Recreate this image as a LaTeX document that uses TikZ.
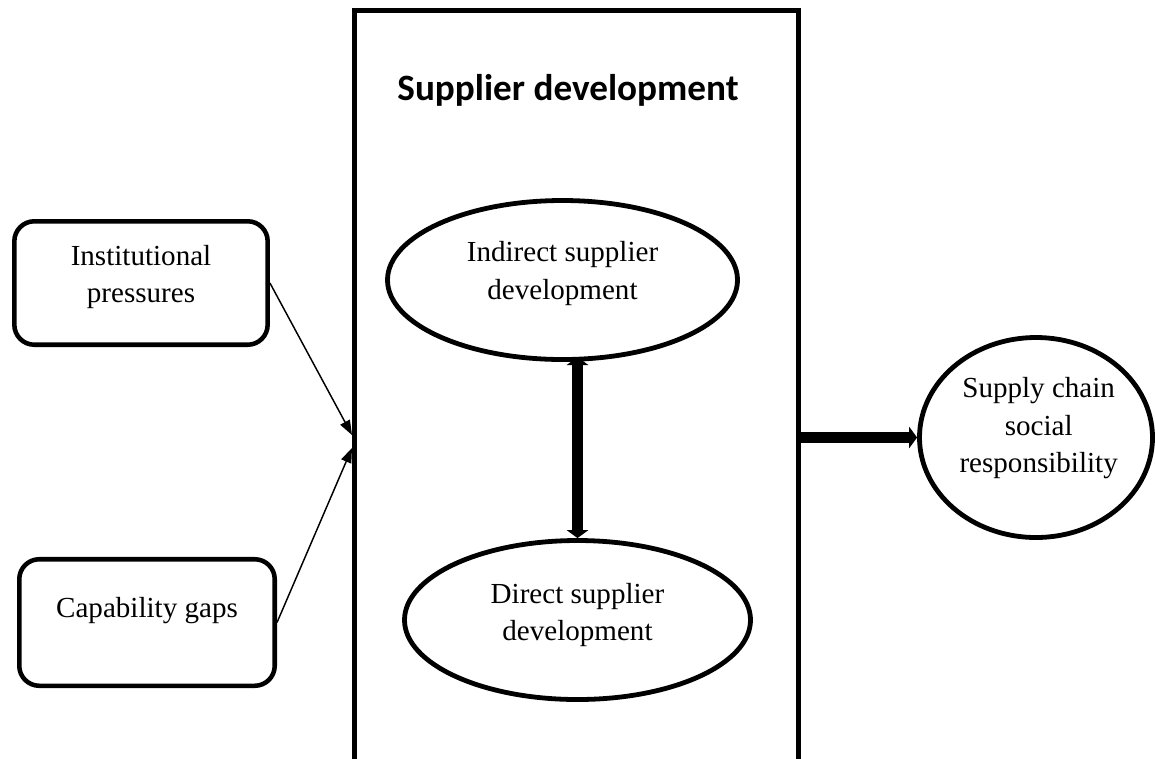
\documentclass[tikz,border=0pt]{standalone}
\usepackage{fontspec}
\setmainfont{Liberation Serif}
\newfontfamily\headfont{Carlito}
\usetikzlibrary{arrows.meta,shapes.geometric}
\tikzset{
  box/.style={draw,line width=3.4pt,rounded corners=15pt,inner sep=0pt},
  oval/.style={draw,ellipse,line width=3.6pt,inner sep=0pt},
  txt/.style={align=center,font=\fontsize{21.8}{28}\selectfont},
  thinarrow/.style={line width=1.1pt,-{Triangle[length=11pt,width=8pt]}},
  fatarrow/.style={line width=8pt,>={Triangle[length=6pt,width=16pt]}}
}
\begin{document}
\begin{tikzpicture}[x=0.75pt,y=-0.75pt]
  \clip (0,0) rectangle (1155,758);
  % frame of the middle block, open at the bottom of the page
  \node [draw,line width=3.6pt,minimum width=333pt,minimum height=592.1pt] (sd) at (576.5,405.25) {};
  \node [font=\headfont\bfseries\fontsize{27.9}{30}\selectfont,anchor=base] (sdt) at (568,100) {Supplier development};
  % inputs
  \node [box,minimum width=190pt,minimum height=92.6pt,
         label={[txt,yshift=4.5pt]center:{Institutional\\pressures}}] (ipr) at (141,283) {};
  \node [box,minimum width=191.6pt,minimum height=94.9pt,
         label={[txt,yshift=8.6pt]center:{Capability gaps}}] (cgp) at (147,622.5) {};
  % inside the block
  \node [oval,minimum width=262.5pt,minimum height=119.25pt,
         label={[txt,yshift=5pt]center:{Indirect supplier\\development}}] (isd) at (562.5,280) {};
  \node [oval,minimum width=259.5pt,minimum height=119.25pt,
         label={[txt,yshift=4pt]center:{Direct supplier\\development}}] (dsd) at (577.5,620) {};
  % outcome
  \node [oval,minimum width=174.75pt,minimum height=150pt,
         label={[txt,xshift=2pt,yshift=7pt]center:{Supply chain\\social\\responsibility}}] (scsr) at (1036,437.5) {};
  \coordinate (in1) at (352,435);
  \coordinate (in2) at (352,448);
  \draw [thinarrow] (ipr.east) -- (in1);
  \draw [thinarrow] (cgp.east) -- (in2);
  \draw [fatarrow,<->] (dsd.north) -- (dsd.north |- 0,357);
  \draw [fatarrow,->] (sd.east |- scsr.west) -- (scsr.west);
\end{tikzpicture}
\end{document}
